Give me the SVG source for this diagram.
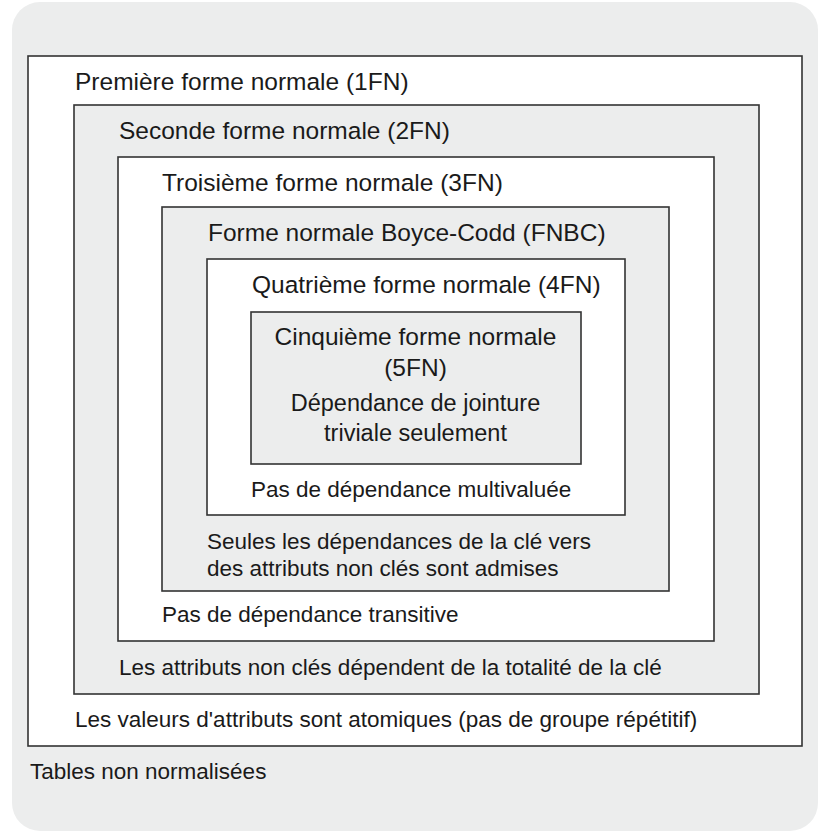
<svg xmlns="http://www.w3.org/2000/svg" width="831" height="838" viewBox="0 0 831 838">
<style>
.box{stroke:#333;stroke-width:1.6}
.g{fill:#eceded}
.w{fill:#fff}
text{font-family:"Liberation Sans",Arial,sans-serif;font-size:22.5px;fill:#1a1a1a}
.t{font-size:24.5px}
.c{text-anchor:middle}
</style>
<rect width="831" height="838" fill="#fff"/>
<g id="tables-non-normalisees">
<rect x="12" y="2" width="806" height="829" rx="28" fill="#eceded"/>
<text x="30" y="779">Tables non normalisées</text>
</g>
<g id="fn1">
<rect class="box w" x="28" y="56" width="774" height="690"/>
<text class="t" x="75" y="90">Première forme normale (1FN)</text>
<text x="75" y="727">Les valeurs d'attributs sont atomiques (pas de groupe répétitif)</text>
</g>
<g id="fn2">
<rect class="box g" x="74" y="105" width="685" height="589"/>
<text class="t" x="119" y="139">Seconde forme normale (2FN)</text>
<text x="119" y="675">Les attributs non clés dépendent de la totalité de la clé</text>
</g>
<g id="fn3">
<rect class="box w" x="118" y="157" width="596" height="484"/>
<text class="t" x="162" y="191">Troisième forme normale (3FN)</text>
<text x="162" y="622">Pas de dépendance transitive</text>
</g>
<g id="fnbc">
<rect class="box g" x="162" y="207" width="507" height="384"/>
<text class="t" x="208" y="241">Forme normale Boyce-Codd (FNBC)</text>
<text x="207" y="549">Seules les dépendances de la clé vers</text>
<text x="207" y="576">des attributs non clés sont admises</text>
</g>
<g id="fn4">
<rect class="box w" x="207" y="259" width="418" height="256"/>
<text class="t" x="252" y="293">Quatrième forme normale (4FN)</text>
<text x="251" y="497">Pas de dépendance multivaluée</text>
</g>
<g id="fn5">
<rect class="box g" x="251" y="312" width="330" height="152"/>
<text class="c t" x="415.5" y="345">Cinquième forme normale</text>
<text class="c t" x="415.5" y="376">(5FN)</text>
<text class="c" x="415.5" y="411" style="font-size:23.5px">Dépendance de jointure</text>
<text class="c" x="415.5" y="441" style="font-size:23.5px">triviale seulement</text>
</g>
<g id="connectors"></g>
</svg>
